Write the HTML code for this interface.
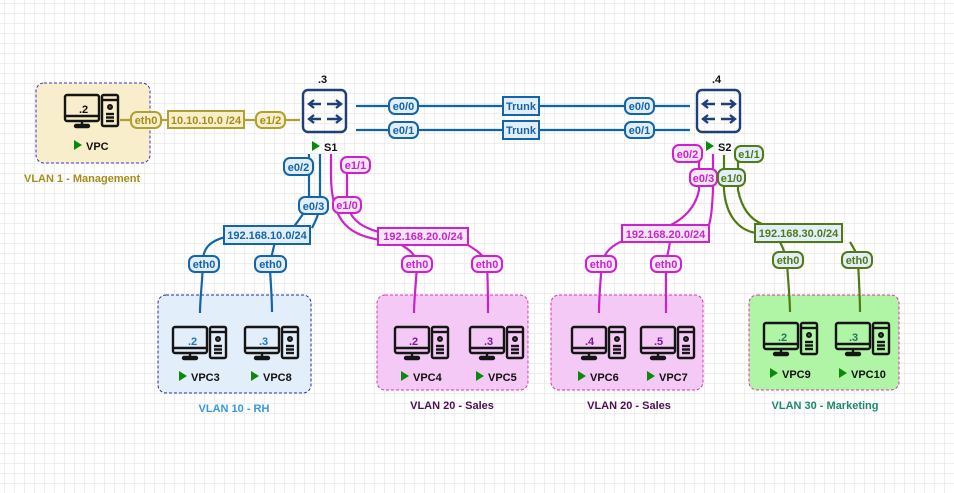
<!DOCTYPE html>
<html><head><meta charset="utf-8"><style>
html,body{margin:0;padding:0;background:#fff}
svg{display:block;font-family:"Liberation Sans",Arial,sans-serif;font-weight:bold}
</style></head><body>
<svg width="954" height="493" viewBox="0 0 954 493" xmlns="http://www.w3.org/2000/svg">
<defs>
<pattern id="g" width="10" height="10" patternUnits="userSpaceOnUse" x="4" y="3">
<path d="M10 0H0V10" fill="none" stroke="#dedede" stroke-width="1"/>
</pattern>
<g id="pc" fill="none" stroke="#151515" stroke-width="2.4">
<rect x="0" y="0" width="34" height="26" rx="2"/>
<line x1="0" y1="21" x2="34" y2="21"/>
<line x1="17" y1="26" x2="17" y2="30"/>
<rect x="10" y="30" width="14" height="2" rx="1"/>
<rect x="37" y="0" width="16" height="31" rx="1.5"/>
<line x1="37" y1="5" x2="53" y2="5"/>
<circle cx="45" cy="12" r="1.8"/>
<line x1="41" y1="19" x2="49" y2="19"/><line x1="41" y1="22.5" x2="49" y2="22.5"/><line x1="41" y1="26" x2="49" y2="26"/>
</g>
<g id="sw" fill="none" stroke="#1f3f7a" stroke-width="2.4">
<rect x="0" y="0" width="43" height="42" rx="5"/>
<path d="M18 14H7M11 10L6 14L11 18M24 14H37M33 10L38 14L33 18"/>
<path d="M18 29H7M11 25L6 29L11 33M24 29H37M33 25L38 29L33 33"/>
</g>
</defs>
<rect width="954" height="493" fill="url(#g)"/>

<rect x="36" y="83" width="114" height="80" rx="8" fill="#f8eecb" stroke="#3333cc" stroke-dasharray="3,2"/>
<rect x="158" y="295" width="153" height="98" rx="8" fill="#e3eefb" stroke="#2a2a9a" stroke-dasharray="3,2"/>
<rect x="377" y="295" width="151" height="95" rx="8" fill="#f5c9f5" stroke="#dd33aa" stroke-dasharray="3,2"/>
<rect x="551" y="295" width="152" height="95" rx="8" fill="#f5c9f5" stroke="#dd33aa" stroke-dasharray="3,2"/>
<rect x="749" y="295" width="150" height="95" rx="8" fill="#b0f5a5" stroke="#dd33aa" stroke-dasharray="3,2"/>

<g font-size="11">
<text x="24" y="182" fill="#a58c1a">VLAN 1 - Management</text>
<text x="234" y="412" fill="#3399dd" text-anchor="middle">VLAN 10 - RH</text>
<text x="452" y="409" fill="#4a1050" text-anchor="middle">VLAN 20 - Sales</text>
<text x="629" y="409" fill="#4a1050" text-anchor="middle">VLAN 20 - Sales</text>
<text x="825" y="409" fill="#1a8a6a" text-anchor="middle">VLAN 30 - Marketing</text>
</g>

<g fill="none" stroke-width="2.2">
<line x1="120" y1="120" x2="300" y2="120" stroke="#b0a030"/>
<line x1="356" y1="106" x2="690" y2="106" stroke="#0f63a8"/>
<line x1="356" y1="130" x2="690" y2="130" stroke="#0f63a8"/>
<g stroke="#1365a8">
<path d="M309 154V200C306 212 300 218 293 228"/>
<path d="M320 154V205C319 214 316 220 312 228"/>
<path d="M230 236C210 240 202 248 203 264C202 285 200 300 200 313"/>
<path d="M275 242C272 254 270 262 270 270C271 285 272 300 272 312"/>
</g>
<g stroke="#cc22cc">
<path d="M331 154V175C331 225 352 235 380 240"/>
<path d="M347 170V205C352 222 364 228 382 233"/>
<path d="M400 244C410 250 416 255 417 264C416 285 414 300 414 313"/>
<path d="M468 245C476 250 484 255 487 264C488 285 488 300 488 313"/>
<path d="M699 158V190C695 210 680 222 664 228"/>
<path d="M713 154V190C712 210 711 220 708 228"/>
<path d="M625 240C612 245 604 252 602 264C600 285 599 300 599 313"/>
<path d="M670 242C668 254 666 260 666 266C666 285 666 300 666 313"/>
</g>
<g stroke="#4f7a14">
<path d="M724 155V190C726 215 738 230 756 233"/>
<path d="M738 160V190C742 210 752 222 768 226"/>
<path d="M780 242C784 250 786 255 787 262C788 280 790 300 790 312"/>
<path d="M850 242C855 250 858 256 858 262C859 280 860 300 860 312"/>
</g>
</g>

<use href="#sw" x="303" y="90"/>
<use href="#sw" x="697" y="90"/>
<g font-size="11">
<text x="318" y="83" fill="#111">.3</text>
<text x="712" y="83" fill="#111">.4</text>
<path d="M312 141l8 5-8 5z" fill="#0a8a0a"/><text x="324" y="151" fill="#111">S1</text>
<path d="M706 141l8 5-8 5z" fill="#0a8a0a"/><text x="718" y="151" fill="#111">S2</text>
</g>

<g font-size="11">
<use href="#pc" x="65" y="95"/><text x="79" y="113" fill="#111">.2</text>
<path d="M74 140l8 5-8 5z" fill="#0a8a0a"/><text x="86" y="150" fill="#111">VPC</text>

<use href="#pc" x="173" y="327"/><text x="188" y="345" fill="#2277bb">.2</text>
<path d="M179 371l8 5-8 5z" fill="#0a8a0a"/><text x="191" y="381" fill="#111">VPC3</text>
<use href="#pc" x="245" y="327"/><text x="259" y="345" fill="#2277bb">.3</text>
<path d="M251 371l8 5-8 5z" fill="#0a8a0a"/><text x="263" y="381" fill="#111">VPC8</text>

<use href="#pc" x="395" y="327"/><text x="409" y="345" fill="#7a1a9a">.2</text>
<path d="M401 371l8 5-8 5z" fill="#0a8a0a"/><text x="413" y="381" fill="#111">VPC4</text>
<use href="#pc" x="470" y="327"/><text x="484" y="345" fill="#7a1a9a">.3</text>
<path d="M476 371l8 5-8 5z" fill="#0a8a0a"/><text x="488" y="381" fill="#111">VPC5</text>

<use href="#pc" x="572" y="327"/><text x="585" y="345" fill="#7a1a9a">.4</text>
<path d="M578 371l8 5-8 5z" fill="#0a8a0a"/><text x="590" y="381" fill="#111">VPC6</text>
<use href="#pc" x="641" y="327"/><text x="654" y="345" fill="#7a1a9a">.5</text>
<path d="M647 371l8 5-8 5z" fill="#0a8a0a"/><text x="659" y="381" fill="#111">VPC7</text>

<use href="#pc" x="764" y="323"/><text x="778" y="341" fill="#227755">.2</text>
<path d="M770 368l8 5-8 5z" fill="#0a8a0a"/><text x="782" y="378" fill="#111">VPC9</text>
<use href="#pc" x="836" y="323"/><text x="849" y="341" fill="#227755">.3</text>
<path d="M839 368l8 5-8 5z" fill="#0a8a0a"/><text x="851" y="378" fill="#111">VPC10</text>
</g>

<g font-size="11" stroke-width="2" text-anchor="middle">
<g fill="#f8eecb" stroke="#b0a030">
<rect x="131" y="112" width="30" height="16" rx="6"/>
<rect x="168" y="111" width="76" height="17"/>
<rect x="256" y="112" width="29" height="16" rx="6"/>
</g>
<g fill="#a58c1a" stroke="none">
<text x="146" y="124">eth0</text><text x="206" y="124">10.10.10.0 /24</text><text x="270.5" y="124">e1/2</text>
</g>

<g fill="#e3eefb" stroke="#1365a8">
<rect x="389" y="98" width="29" height="16" rx="6"/><rect x="503" y="97" width="36" height="18"/><rect x="625" y="98" width="29" height="16" rx="6"/>
<rect x="389" y="122" width="29" height="16" rx="6"/><rect x="503" y="121" width="36" height="18"/><rect x="625" y="122" width="29" height="16" rx="6"/>
<rect x="284" y="158" width="29" height="17" rx="6"/>
<rect x="299" y="197" width="29" height="17" rx="6"/>
<rect x="224" y="226" width="86" height="18"/>
<rect x="189" y="256" width="30" height="16" rx="6"/>
<rect x="255" y="256" width="31" height="16" rx="6"/>
</g>
<g fill="#1365a8" stroke="none">
<text x="403.5" y="110">e0/0</text><text x="521" y="110">Trunk</text><text x="639.5" y="110">e0/0</text>
<text x="403.5" y="134">e0/1</text><text x="521" y="134">Trunk</text><text x="639.5" y="134">e0/1</text>
<text x="298.5" y="171">e0/2</text><text x="313.5" y="210">e0/3</text>
<text x="267" y="239">192.168.10.0/24</text>
<text x="204" y="268">eth0</text><text x="270.5" y="268">eth0</text>
</g>

<g fill="#f2e6f7" stroke="#cc22cc">
<rect x="341" y="157" width="29" height="16" rx="6"/>
<rect x="333" y="197" width="28" height="16" rx="6"/>
<rect x="378" y="228" width="90" height="17"/>
<rect x="402" y="256" width="30" height="16" rx="6"/>
<rect x="472" y="256" width="30" height="16" rx="6"/>
<rect x="673" y="145" width="29" height="17" rx="6"/>
<rect x="690" y="169" width="27" height="17" rx="6"/>
<rect x="622" y="225" width="87" height="17"/>
<rect x="586" y="256" width="30" height="16" rx="6"/>
<rect x="651" y="256" width="30" height="16" rx="6"/>
</g>
<g fill="#cc22cc" stroke="none">
<text x="355.5" y="169">e1/1</text><text x="347" y="209">e1/0</text>
<text x="423" y="240">192.168.20.0/24</text>
<text x="417" y="268">eth0</text><text x="487" y="268">eth0</text>
<text x="687.5" y="158">e0/2</text><text x="703.5" y="182">e0/3</text>
<text x="665.5" y="238">192.168.20.0/24</text>
<text x="601" y="268">eth0</text><text x="666" y="268">eth0</text>
</g>

<g fill="#e3eefb" stroke="#4f7a14">
<rect x="735" y="146" width="28" height="16" rx="6"/>
<rect x="718" y="169" width="27" height="17" rx="6"/>
<rect x="755" y="224" width="87" height="18"/>
<rect x="773" y="252" width="30" height="16" rx="6"/>
<rect x="842" y="252" width="30" height="16" rx="6"/>
</g>
<g fill="#4f7a14" stroke="none">
<text x="749" y="158">e1/1</text><text x="731.5" y="182">e1/0</text>
<text x="798.5" y="237">192.168.30.0/24</text>
<text x="788" y="264">eth0</text><text x="857" y="264">eth0</text>
</g>
</g>
</svg>
</body></html>
